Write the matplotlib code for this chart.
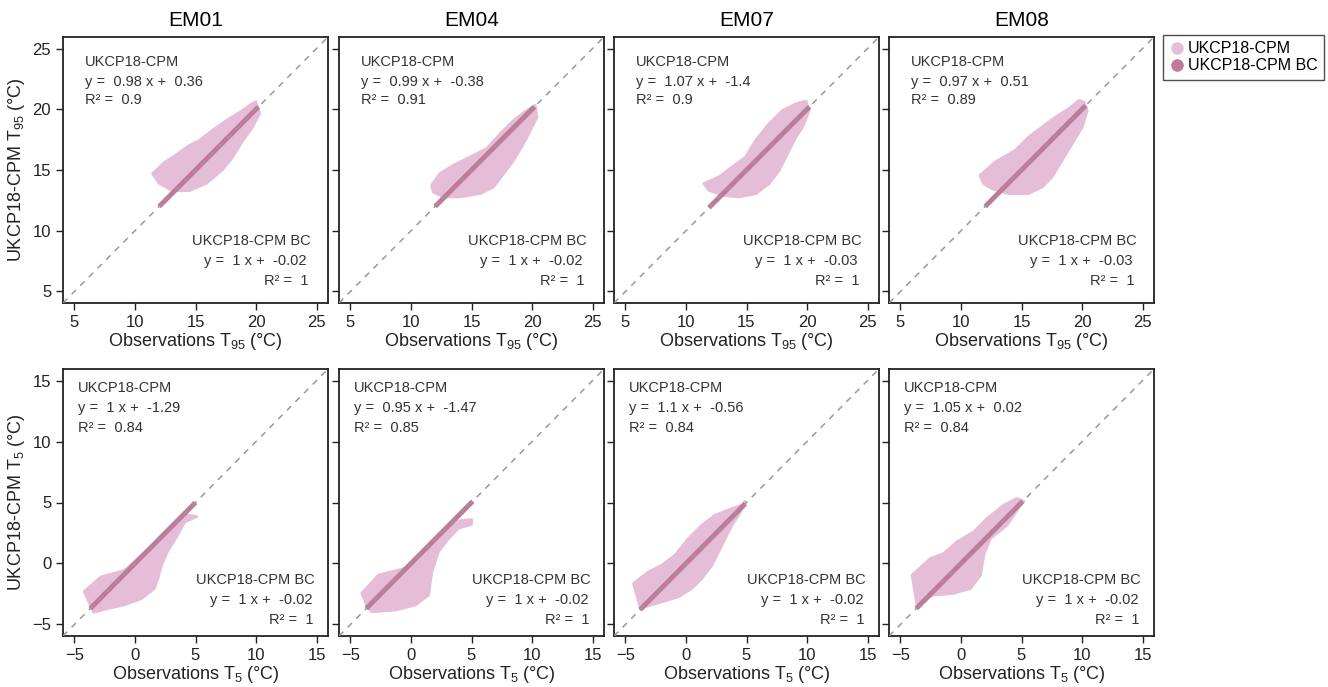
"""UKCP18-CPM vs observations, T95 / T5 scatter (4 ensemble members)."""
import matplotlib

matplotlib.use("Agg")
matplotlib.rcParams["font.family"] = ["Liberation Sans", "DejaVu Sans"]
matplotlib.rcParams["mathtext.default"] = "regular"

import matplotlib.pyplot as plt
from matplotlib.lines import Line2D

CLOUD = "#e6bdd6"
BC = "#c17899"
ONE2ONE = "#999999"
INK = "#222222"

members = ["EM01", "EM04", "EM07", "EM08"]

# fitted coefficients printed in each panel (raw CPM / bias corrected)
t95_slope = ["0.98", "0.99", "1.07", "0.97"]
t95_icpt = ["0.36", "-0.38", "-1.4", "0.51"]
t95_r2 = ["0.9", "0.91", "0.9", "0.89"]
t95_bc_icpt = ["-0.02", "-0.02", "-0.03", "-0.03"]

t5_slope = ["1", "0.95", "1.1", "1.05"]
t5_icpt = ["-1.29", "-1.47", "-0.56", "0.02"]
t5_r2 = ["0.84", "0.85", "0.84", "0.84"]
t5_bc_icpt = ["-0.02", "-0.02", "-0.02", "-0.02"]

# outline of the raw CPM point cloud
t95_cloud_x = [
    [11.45, 12.44, 13.1, 14.5, 15.33, 16.4, 17.56, 18.64, 19.7, 20.0, 20.3,
     19.7, 18.9, 18.06, 17.2, 15.9, 14.5, 13.1, 12.0],
    [11.7, 12.39, 13.5, 14.88, 16.26, 17.37, 18.48, 19.58, 20.27, 20.41,
     19.86, 19.3, 18.48, 17.65, 16.82, 15.71, 14.05, 12.67, 11.84],
    [11.47, 12.72, 13.83, 14.93, 15.76, 16.87, 17.97, 19.08, 19.91, 20.19,
     19.63, 19.08, 18.53, 17.7, 16.87, 15.76, 14.38, 13.0, 11.89],
    [11.58, 12.83, 14.49, 15.59, 16.7, 17.81, 18.91, 19.74, 20.16, 20.43,
     20.02, 19.19, 18.36, 17.53, 16.7, 15.59, 13.93, 12.55, 11.86],
]
t95_cloud_y = [
    [14.7, 15.63, 16.04, 17.03, 17.44, 18.26, 19.08, 19.74, 20.48, 20.6, 19.66,
     18.5, 17.4, 16.04, 15.0, 13.9, 13.3, 13.3, 13.9],
    [13.74, 14.7, 15.39, 16.07, 16.76, 17.99, 19.08, 19.9, 20.32, 19.36,
     18.26, 17.17, 15.8, 14.7, 13.6, 13.06, 12.78, 12.78, 13.19],
    [13.88, 14.43, 15.25, 16.07, 17.44, 18.81, 19.9, 20.45, 20.67, 19.9,
     18.53, 17.71, 16.62, 14.97, 13.88, 13.05, 12.78, 12.92, 13.33],
    [14.56, 15.66, 16.62, 17.71, 18.54, 19.36, 20.04, 20.73, 20.59, 19.9,
     18.54, 17.17, 15.8, 14.43, 13.6, 13.06, 13.06, 13.47, 13.88],
]
t5_cloud_x = [
    [-3.6, -4.2, -2.8, -1.7, -0.9, 2.0, 4.0, 5.1, 4.1, 3.5, 2.7, 2.2, 1.9,
     1.6, 0.5, -0.9, -2.25, -3.4],
    [-3.6, -4.06, -2.68, -0.48, 1.5, 3.0, 4.0, 5.03, 5.0, 3.93, 3.1, 2.27,
     1.72, 1.45, 0.35, -1.3, -3.24],
    [-3.8, -4.34, -3.1, -2.0, -0.9, 0.21, 1.31, 2.41, 3.79, 4.62, 4.89, 4.34,
     3.79, 3.24, 2.69, 2.14, 1.31, 0.48, -0.62, -2.0, -3.37],
    [-3.6, -4.04, -2.52, -1.42, -0.32, 1.06, 2.16, 3.54, 4.64, 5.2, 4.91,
     3.81, 2.43, 1.88, 1.61, 0.78, -0.6, -2.25, -3.08],
]
t5_cloud_y = [
    [-3.6, -2.3, -1.1, -0.8, -0.6, 2.0, 4.0, 3.85, 3.4, 2.3, 1.0, -0.1, -1.2,
     -2.05, -2.9, -3.4, -3.7, -4.0],
    [-3.6, -2.45, -0.95, -0.4, 1.4, 2.7, 3.5, 3.6, 3.2, 2.9, 2.05, 0.96,
     -0.68, -2.59, -3.41, -3.82, -3.96],
    [-3.55, -1.64, -0.69, -0.14, 0.68, 2.05, 3.14, 3.96, 4.5, 4.78, 5.1, 3.96,
     3.14, 2.05, 0.95, -0.14, -1.23, -2.05, -2.73, -3.15, -3.55],
    [-3.6, -0.95, 0.41, 0.82, 1.78, 2.6, 3.69, 4.79, 5.33, 5.1, 4.79,
     3.15, 2.05, 0.69, -0.95, -2.05, -2.45, -2.59, -2.86],
]

# bias corrected points collapse onto the 1:1 line
t95_bc_x = [[12.0, 20.2], [12.0, 20.2], [11.9, 20.2], [12.0, 20.3]]
t95_bc_y = [[12.0, 20.2], [12.0, 20.2], [11.9, 20.2], [12.0, 20.3]]
t5_bc_x = [[-3.7, 5.0], [-3.7, 5.1], [-3.8, 4.9], [-3.7, 5.1]]
t5_bc_y = [[-3.7, 5.0], [-3.7, 5.1], [-3.8, 4.9], [-3.7, 5.1]]

t95_ticks = [5, 10, 15, 20, 25]
t5_ticks = [-5, 0, 5, 10, 15]


def draw_panel(ax, cx, cy, bx, by, lim, ticks, slope, icpt, r2, bc_icpt, top_y, bc_y, bc_x):
    ax.fill(cx, cy, color=CLOUD, ec=CLOUD, lw=2, joinstyle="round", zorder=2)
    ax.plot(bx, by, color=BC, lw=3.5, solid_capstyle="butt", zorder=3)
    ax.axline((0, 0), slope=1, color=ONE2ONE, lw=1.1, dashes=(4, 4), zorder=4)
    ax.set_xlim(lim)
    ax.set_ylim(lim)
    ax.set_xticks(ticks)
    ax.set_yticks(ticks)
    ax.tick_params(direction="out", length=5, width=1, colors=INK, labelsize=12,
                   top=False, right=False)
    for s in ax.spines.values():
        s.set_color(INK)
        s.set_linewidth(1.3)

    kw = dict(transform=ax.transAxes, fontsize=10.5, color="#333333", va="center")
    left = top_y[0]
    ax.text(left, top_y[1], "UKCP18-CPM", ha="left", **kw)
    ax.text(left, top_y[2], "y =  %s x +  %s" % (slope, icpt), ha="left", **kw)
    ax.text(left, top_y[3], "R\u00b2 =  %s" % r2, ha="left", **kw)
    ax.text(bc_x[0], bc_y[0], "UKCP18-CPM BC", ha="right", **kw)
    ax.text(bc_x[1], bc_y[1], "y =  1 x +  %s" % bc_icpt, ha="right", **kw)
    ax.text(bc_x[2], bc_y[2], "R\u00b2 =  1", ha="right", **kw)


fig = plt.figure(figsize=(13.28, 6.87), dpi=100)
lefts = [63, 339, 614, 889]
W, H = 1328.0, 687.0

for i, em in enumerate(members):
    ax = fig.add_axes([lefts[i] / W, 1 - 303 / H, 265 / W, 266 / H])
    draw_panel(ax, t95_cloud_x[i], t95_cloud_y[i], t95_bc_x[i], t95_bc_y[i],
               (4.05, 25.95), t95_ticks, t95_slope[i], t95_icpt[i], t95_r2[i],
               t95_bc_icpt[i], (0.083, 0.906, 0.831, 0.763), (0.233, 0.158, 0.083),
               (0.936, 0.918, 0.928))
    ax.set_title(em, fontsize=15, color="black", pad=8)
    ax.set_xlabel("Observations T$_{95}$ (°C)", fontsize=13, color=INK, labelpad=1)
    if i == 0:
        ax.set_ylabel("UKCP18-CPM T$_{95}$ (°C)", fontsize=13, color=INK, labelpad=4)
    else:
        ax.tick_params(labelleft=False)

    ax = fig.add_axes([lefts[i] / W, 1 - 636 / H, 265 / W, 267 / H])
    draw_panel(ax, t5_cloud_x[i], t5_cloud_y[i], t5_bc_x[i], t5_bc_y[i],
               (-5.95, 15.95), t5_ticks, t5_slope[i], t5_icpt[i], t5_r2[i],
               t5_bc_icpt[i], (0.058, 0.929, 0.854, 0.779), (0.21, 0.135, 0.06),
               (0.951, 0.94, 0.947))
    ax.set_xlabel("Observations T$_{5}$ (°C)", fontsize=13, color=INK, labelpad=1)
    if i == 0:
        ax.set_ylabel("UKCP18-CPM T$_{5}$ (°C)", fontsize=13, color=INK, labelpad=4)
    else:
        ax.tick_params(labelleft=False)

handles = [
    Line2D([], [], ls="none", marker="o", ms=8, color=CLOUD, label="UKCP18-CPM"),
    Line2D([], [], ls="none", marker="o", ms=8, color=BC, label="UKCP18-CPM BC"),
]
leg = fig.legend(handles=handles, loc="upper left", bbox_to_anchor=(1163 / W, 1 - 35 / H),
                 fontsize=11.5, frameon=True, fancybox=False, handletextpad=0.25,
                 handlelength=0.9, borderpad=0.4, labelspacing=0.12, borderaxespad=0)
leg.get_frame().set_edgecolor(INK)
leg.get_frame().set_linewidth(1.0)

fig.savefig("out.png", facecolor="white")
